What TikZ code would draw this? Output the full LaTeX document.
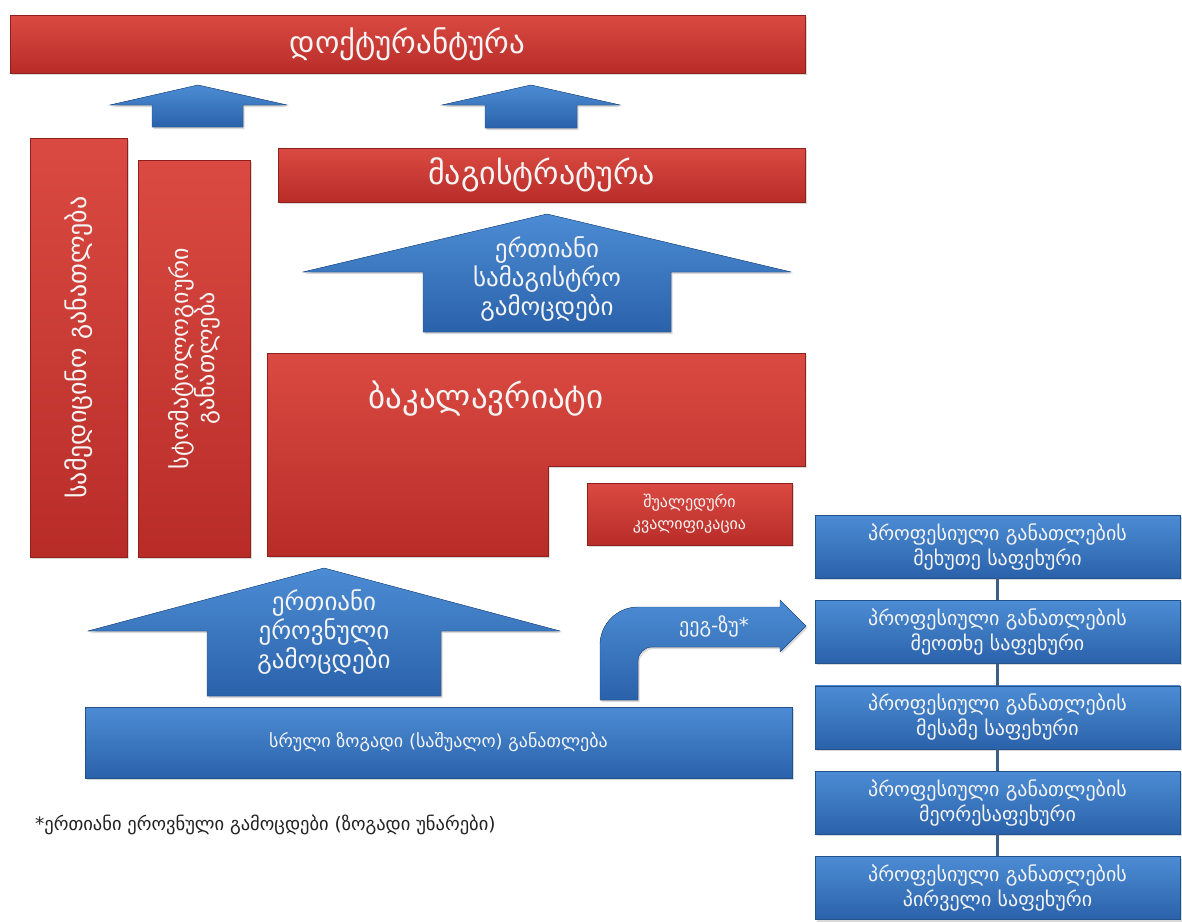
\documentclass[tikz,border=0pt]{standalone}
\usepackage{fontspec}
\setmainfont{DejaVu Sans}
\usetikzlibrary{positioning,shadows}
\definecolor{redtop}{HTML}{DA4A42}
\definecolor{redbot}{HTML}{B82C28}
\definecolor{redline}{HTML}{8E211E}
\definecolor{bluetop}{HTML}{4C8CD4}
\definecolor{bluebot}{HTML}{2A62AA}
\definecolor{blueline}{HTML}{21508C}
\definecolor{linkblue}{HTML}{3E5E88}
\definecolor{textwhite}{HTML}{F4F4F4}
\definecolor{notegray}{HTML}{222222}

\begin{document}
\begin{tikzpicture}[
            x=1pt, y=-1pt,
            softshadow/.style={drop shadow={shadow xshift=1.5pt, shadow yshift=-2pt, opacity=0.3}},
            redbox/.style={rectangle, draw=redline, top color=redtop, bottom color=redbot, softshadow, inner sep=0pt, text=textwhite, align=center},
            bluebox/.style={rectangle, draw=blueline, top color=bluetop, bottom color=bluebot, softshadow, inner sep=0pt, text=textwhite, align=center},
            redshape/.style={draw=redline, top color=redtop, bottom color=redbot, softshadow},
            blueshape/.style={draw=blueline, top color=bluetop, bottom color=bluebot, softshadow},
            boxtext/.style={text=textwhite, align=center, inner sep=0pt},
            proflevel/.style={bluebox, minimum width=365pt, minimum height=63pt, font=\fontsize{20}{25}\selectfont},
            connector/.style={draw=linkblue, line width=3pt}
        ]
        \useasboundingbox (0,0) rectangle (1182,922);

        % Doctorate and the arrows into it
        \node[redbox, minimum width=795pt, minimum height=58pt, font=\fontsize{31}{34}\selectfont] (doc) at (407.5,44) {დოქტურანტურა};
        \fill[blueshape] (198,85) -- (287,105) -- (243,105) -- (243,127) -- (152,127) -- (152,105) -- (110,105) -- cycle;
        \fill[blueshape] (531,85) -- (620,105) -- (577,105) -- (577,128) -- (485,128) -- (485,105) -- (442,105) -- cycle;

        % Medical and dental education
        \node[redbox, minimum width=97pt, minimum height=419pt] (med) at (78.5,347.5) {};
        \node[boxtext, rotate=90, font=\fontsize{26}{28}\selectfont] (medtext) at (med.center) {სამედიცინო განათლება};
        \node[redbox, minimum width=112pt, minimum height=397pt] (dent) at (194,358.5) {};
        \node[boxtext, rotate=90, font=\fontsize{24}{26}\selectfont] (denttext) at (dent.center) {სტომატოლოგიური\\განათლება};

        % Master level
        \node[redbox, minimum width=527pt, minimum height=54pt, font=\fontsize{32}{34}\selectfont] (mag) at (541.5,175) {მაგისტრატურა};
        \fill[blueshape] (547,214) -- (791,272) -- (671,272) -- (671,332) -- (423,332) -- (423,272) -- (303,272) -- cycle;
        \node[boxtext, font=\fontsize{25}{29}\selectfont] (magexam) at (547,279) {ერთიანი\\სამაგისტრო\\გამოცდები};

        % Bachelor level
        \fill[redshape] (267,353) -- (805,353) -- (805,466) -- (548,466) -- (548,556) -- (267,556) -- cycle;
        \node[boxtext, font=\fontsize{33}{36}\selectfont] (bak) at (486,399) {ბაკალავრიატი};
        \node[redbox, minimum width=205pt, minimum height=62pt, font=\fontsize{16}{22}\selectfont] (mid) at (689.5,514) {შუალედური\\კვალიფიკაცია};

        % National exams and school
        \fill[blueshape] (324,568) -- (560,631) -- (441,631) -- (441,696) -- (207,696) -- (207,631) -- (88,631) -- cycle;
        \node[boxtext, font=\fontsize{25}{29}\selectfont] (natexam) at (324,632) {ერთიანი\\ეროვნული\\გამოცდები};
        \node[bluebox, minimum width=707pt, minimum height=71pt, font=\fontsize{18}{22}\selectfont] (school) at (438.5,742.5) {სრული ზოგადი (საშუალო) განათლება};
        \fill[blueshape] (600,700) -- (600,645) arc[start angle=180, end angle=270, radius=38] -- (780,607) -- (780,600) -- (806,626) -- (780,652) -- (780,647) -- (652,647) arc[start angle=270, end angle=180, radius=14] -- (638,700) -- cycle;
        \node[boxtext, font=\fontsize{20}{22}\selectfont] (egzu) at (714,626) {ეეგ-ზუ*};

        % Vocational levels
        \node[proflevel] (prof5) at (997.5,546.5) {პროფესიული განათლების\\მეხუთე საფეხური};
        \node[proflevel, below=22pt of prof5] (prof4) {პროფესიული განათლების\\მეოთხე საფეხური};
        \node[proflevel, below=22pt of prof4] (prof3) {პროფესიული განათლების\\მესამე საფეხური};
        \node[proflevel, below=22pt of prof3] (prof2) {პროფესიული განათლების\\მეორესაფეხური};
        \node[proflevel, below=22pt of prof2] (prof1) {პროფესიული განათლების\\პირველი საფეხური};
        \draw[connector] (prof5) -- (prof4);
        \draw[connector] (prof4) -- (prof3);
        \draw[connector] (prof3) -- (prof2);
        \draw[connector] (prof2) -- (prof1);

        % Footnote
        \node[anchor=west, text=notegray, inner sep=0pt, font=\fontsize{18.5}{22}\selectfont] (note) at (35,825) {*ერთიანი ეროვნული გამოცდები (ზოგადი უნარები)};

        \end{tikzpicture}
\end{document}
